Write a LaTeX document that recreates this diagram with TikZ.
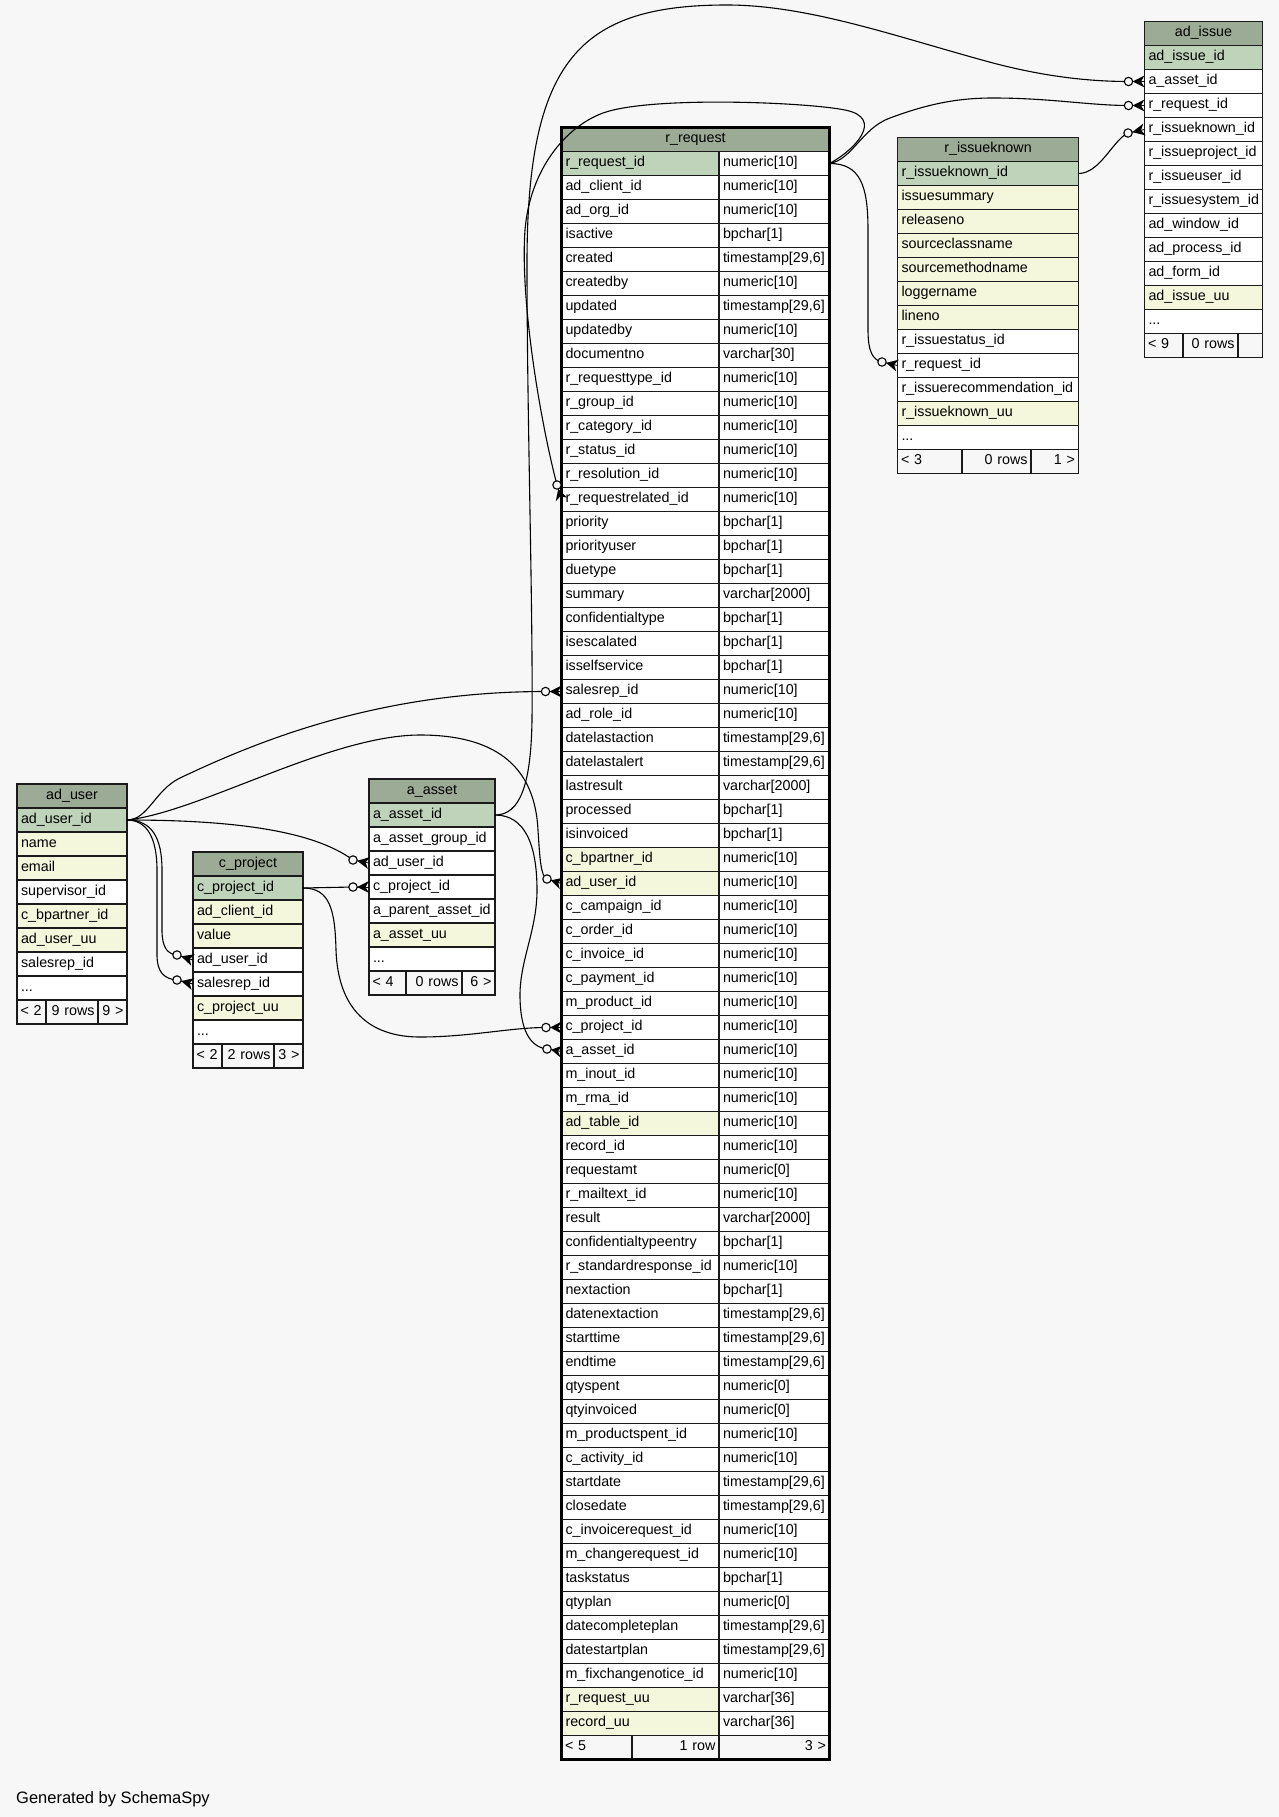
\documentclass[tikz,border=0pt]{standalone}
\usepackage{fontspec}
\setmainfont{Liberation Sans}
\usetikzlibrary{calc}
\definecolor{bgc}{HTML}{F7F7F7}
\definecolor{chd}{HTML}{9CAB96}
\definecolor{cp}{HTML}{BFD3BA}
\definecolor{cy}{HTML}{F4F7DB}
\definecolor{cw}{HTML}{FFFFFF}
\definecolor{linec}{HTML}{1A1A1A}
\tikzset{
  cell/.style={draw=linec, line width=1.3pt, anchor=north west, outer sep=0pt,
    inner xsep=4pt, inner ysep=0pt, minimum height=24pt, text height=10pt,
    text depth=3.5pt, align=left, font=\fontsize{14.3pt}{16pt}\selectfont,
    execute at begin node={\hyphenpenalty=10000\exhyphenpenalty=10000}},
  hdr/.style={cell, fill=chd, align=center},
  foot/.style={cell, fill=bgc, inner xsep=3.5pt},
  frame/.style={draw=linec, line width=1.7pt},
  bigframe/.style={draw=black, line width=3pt},
  fk/.style={draw=black, line width=1.1pt},
}
% one-column table: prefix, x, top, width, title, rows (text/fill)
\newcommand{\erdtable}[6]{%
  \pgfmathsetmacro\tw{#4-8}
  \node[hdr, text width=\tw pt] (#1) at (#2,#3) {#5};
  \foreach \rt/\rf [count=\ri] in {#6} {
    \node[cell, fill=c\rf, text width=\tw pt] (#1-\ri) at (#2,{#3+24*\ri}) {\rt};
  }
}
% footer row: prefix, x, y, w1, w2, w3, t1, t2, t3
\newcommand{\erdfoot}[9]{%
  \pgfmathsetmacro\twa{#4-7}\pgfmathsetmacro\twb{#5-7}\pgfmathsetmacro\twc{#6-7}
  \node[foot, text width=\twa pt, align=left] (#1-fa) at (#2,#3) {\mbox{#7}};
  \node[foot, text width=\twb pt, align=right] (#1-fb) at ({#2+#4},#3) {\mbox{#8}};
  \node[foot, text width=\twc pt, align=right] (#1-fc) at ({#2+#4+#5},#3) {\mbox{#9}};
}
% crow's foot with open circle: #1 circle centre, #2 point on the table edge
\newcommand{\crowodot}[2]{%
  \fill[black] ($(#1)!4.2pt!(#2)$) -- ($(#2)!6pt!90:(#1)$) -- ($(#2)!3.5pt!(#1)$)
    -- ($(#2)!6pt!-90:(#1)$) -- cycle;
  \draw[line width=0.9pt] ($(#1)!4.2pt!(#2)$) -- (#2);
  \draw[line width=1.1pt, fill=bgc] (#1) circle[radius=4.2pt];
}
\begin{document}
\begin{tikzpicture}[x=1pt,y=-1pt]
\fill[bgc] (0,0) rectangle (1279,1817);
\useasboundingbox (0,0) rectangle (1279,1817);

% ---------------- ad_issue
\erdtable{ai}{1144.5}{21.5}{118}{ad\_issue}{ad\_issue\_id/p, a\_asset\_id/w, r\_request\_id/w,
  r\_issueknown\_id/w, r\_issueproject\_id/w, r\_issueuser\_id/w, r\_issuesystem\_id/w,
  ad\_window\_id/w, ad\_process\_id/w, ad\_form\_id/w, ad\_issue\_uu/y, {.}{.}{.}/w}
\erdfoot{ai}{1144.5}{333.5}{38.5}{55}{24.5}{< 9}{0 rows}{}
\draw[frame] (ai.north west) rectangle (ai-fc.south east);

% ---------------- r_issueknown
\erdtable{rik}{897.5}{137.5}{181}{r\_issueknown}{r\_issueknown\_id/p, issuesummary/y,
  releaseno/y, sourceclassname/y, sourcemethodname/y, loggername/y, lineno/y,
  r\_issuestatus\_id/w, r\_request\_id/w, r\_issuerecommendation\_id/w,
  r\_issueknown\_uu/y, {.}{.}{.}/w}
\erdfoot{rik}{897.5}{449.5}{64.5}{69}{47.5}{< 3}{0 rows}{1 >}
\draw[frame] (rik.north west) rectangle (rik-fc.south east);

% ---------------- ad_user
\erdtable{au}{17}{784}{110}{ad\_user}{ad\_user\_id/p, name/y, email/y, supervisor\_id/w,
  c\_bpartner\_id/y, ad\_user\_uu/y, salesrep\_id/w, {.}{.}{.}/w}
\erdfoot{au}{17}{1000}{29}{52}{29}{< 2}{9 rows}{9 >}
\draw[frame] (au.north west) rectangle (au-fc.south east);

% ---------------- c_project
\erdtable{cp}{193}{852}{110}{c\_project}{c\_project\_id/p, ad\_client\_id/y, value/y,
  ad\_user\_id/w, salesrep\_id/w, c\_project\_uu/y, {.}{.}{.}/w}
\erdfoot{cp}{193}{1044}{29}{52}{29}{< 2}{2 rows}{3 >}
\draw[frame] (cp.north west) rectangle (cp-fc.south east);

% ---------------- a_asset
\erdtable{aa}{369}{779}{126}{a\_asset}{a\_asset\_id/p, a\_asset\_group\_id/w, ad\_user\_id/w,
  c\_project\_id/w, a\_parent\_asset\_id/w, a\_asset\_uu/y, {.}{.}{.}/w}
\erdfoot{aa}{369}{971}{37}{56}{33}{< 4}{0 rows}{6 >}
\draw[frame] (aa.north west) rectangle (aa-fc.south east);

% ---------------- r_request
\node[hdr, text width=260pt] (rq) at (561.5,127.5) {r\_request};
\foreach \ca/\cb/\rf [count=\ri] in {
  r\_request\_id/numeric[10]/p, ad\_client\_id/numeric[10]/w, ad\_org\_id/numeric[10]/w,
  isactive/bpchar[1]/w, created/{timestamp[29,6]}/w, createdby/numeric[10]/w,
  updated/{timestamp[29,6]}/w, updatedby/numeric[10]/w, documentno/varchar[30]/w,
  r\_requesttype\_id/numeric[10]/w, r\_group\_id/numeric[10]/w, r\_category\_id/numeric[10]/w,
  r\_status\_id/numeric[10]/w, r\_resolution\_id/numeric[10]/w, r\_requestrelated\_id/numeric[10]/w,
  priority/bpchar[1]/w, priorityuser/bpchar[1]/w, duetype/bpchar[1]/w,
  summary/varchar[2000]/w, confidentialtype/bpchar[1]/w, isescalated/bpchar[1]/w,
  isselfservice/bpchar[1]/w, salesrep\_id/numeric[10]/w, ad\_role\_id/numeric[10]/w,
  datelastaction/{timestamp[29,6]}/w, datelastalert/{timestamp[29,6]}/w, lastresult/varchar[2000]/w,
  processed/bpchar[1]/w, isinvoiced/bpchar[1]/w, c\_bpartner\_id/numeric[10]/y,
  ad\_user\_id/numeric[10]/y, c\_campaign\_id/numeric[10]/w, c\_order\_id/numeric[10]/w,
  c\_invoice\_id/numeric[10]/w, c\_payment\_id/numeric[10]/w, m\_product\_id/numeric[10]/w,
  c\_project\_id/numeric[10]/w, a\_asset\_id/numeric[10]/w, m\_inout\_id/numeric[10]/w,
  m\_rma\_id/numeric[10]/w, ad\_table\_id/numeric[10]/y, record\_id/numeric[10]/w,
  requestamt/numeric[0]/w, r\_mailtext\_id/numeric[10]/w, result/varchar[2000]/w,
  confidentialtypeentry/bpchar[1]/w, r\_standardresponse\_id/numeric[10]/w, nextaction/bpchar[1]/w,
  datenextaction/{timestamp[29,6]}/w, starttime/{timestamp[29,6]}/w, endtime/{timestamp[29,6]}/w,
  qtyspent/numeric[0]/w, qtyinvoiced/numeric[0]/w, m\_productspent\_id/numeric[10]/w,
  c\_activity\_id/numeric[10]/w, startdate/{timestamp[29,6]}/w, closedate/{timestamp[29,6]}/w,
  c\_invoicerequest\_id/numeric[10]/w, m\_changerequest\_id/numeric[10]/w, taskstatus/bpchar[1]/w,
  qtyplan/numeric[0]/w, datecompleteplan/{timestamp[29,6]}/w, datestartplan/{timestamp[29,6]}/w,
  m\_fixchangenotice\_id/numeric[10]/w, r\_request\_uu/varchar[36]/y, record\_uu/varchar[36]/y} {
  \node[cell, fill=c\rf, text width=149.5pt] (rqn-\ri) at (561.5,{127.5+24*\ri}) {\ca};
  \node[cell, fill=cw, text width=102.5pt] (rqt-\ri) at (719,{127.5+24*\ri}) {\cb};
}
\erdfoot{rq}{561.5}{1735.5}{70.5}{87}{110.5}{< 5}{1 row}{3 >}
\draw[bigframe] (rq.north west) rectangle (rq-fc.south east);

% ---------------- connector end points (circle centres)
\coordinate (e1) at ($(ai-2.west)+(-16,0)$);
\coordinate (e2) at ($(ai-3.west)+(-16,0)$);
\coordinate (e3) at ($(ai-4.west)+(-16.5,3.5)$);
\coordinate (e4) at ($(rik-9.west)+(-15.5,-3.5)$);
\coordinate (e5) at ($(rqn-15.west)+(-4.5,-14.5)$);
\coordinate (e6) at ($(rqn-23.west)+(-16,0)$);
\coordinate (e7) at ($(rqn-31.west)+(-14.5,-4.5)$);
\coordinate (e8) at ($(aa-3.west)+(-16,-3)$);
\coordinate (e9) at ($(cp-4.west)+(-16,-5)$);
\coordinate (e10) at ($(cp-5.west)+(-16,-4)$);
\coordinate (e11) at ($(aa-4.west)+(-16,0)$);
\coordinate (e12) at ($(rqn-37.west)+(-15.5,0)$);
\coordinate (e13) at ($(rqn-38.west)+(-14.5,-2.5)$);

% ---------------- connectors
% a_asset.a_asset_id -> ad_issue.a_asset_id
\draw[fk] (aa-1.east) .. controls (520,815) and (531,785) .. (532,720)
  .. controls (533,600) and (527,420) .. (527,263)
  .. controls (527,60) and (580,5) .. (727,5)
  .. controls (810,5) and (900,38) .. (993,63)
  .. controls (1050,78) and (1095,81.5) .. (e1);
% r_request.r_request_id -> ad_issue.r_request_id
\draw[fk] (rqt-1.east) .. controls (852,160) and (862,128) .. (890,118)
  .. controls (930,103) and (960,98) .. (993,98)
  .. controls (1050,98) and (1090,105.5) .. (e2);
% r_issueknown.r_issueknown_id -> ad_issue.r_issueknown_id
\draw[fk] (rik-1.east) .. controls (1100,173.5) and (1113,140) .. (e3);
% r_request.r_request_id -> r_issueknown.r_request_id
\draw[fk] (rqt-1.east) .. controls (860,163.5) and (868,185) .. (868,230) -- (868,330)
  .. controls (868,352) and (873,360) .. (e4);
% r_request.r_request_id -> r_request.r_requestrelated_id
\draw[fk] (rqt-1.east) .. controls (855,150) and (885,118) .. (845,110)
  .. controls (805,102) and (650,96) .. (603,113)
  .. controls (565,127) and (530,170) .. (525,230)
  .. controls (520,300) and (540,420) .. (e5);
% ad_user.ad_user_id -> r_request.salesrep_id
\draw[fk] (au-1.east) .. controls (148,820) and (155,790) .. (180,778)
  .. controls (260,740) and (380,691.5) .. (e6);
% ad_user.ad_user_id -> r_request.ad_user_id
\draw[fk] (au-1.east) .. controls (200,812) and (330,735) .. (420,735)
  .. controls (500,735) and (535,770) .. (538,830)
  .. controls (540,862) and (541,876) .. (e7);
% ad_user.ad_user_id -> a_asset.ad_user_id
\draw[fk] (au-1.east) .. controls (240,820) and (315,832) .. (e8);
% ad_user.ad_user_id -> c_project.ad_user_id
\draw[fk] (au-1.east) .. controls (152,820) and (162,838) .. (162,870) -- (162,930)
  .. controls (162,947) and (167,954) .. (e9);
% ad_user.ad_user_id -> c_project.salesrep_id
\draw[fk] (au-1.east) .. controls (147,820) and (157,838) .. (157,870) -- (157,955)
  .. controls (157,972) and (164,979) .. (e10);
% c_project.c_project_id -> a_asset.c_project_id
\draw[fk] (cp-1.east) -- (e11);
% c_project.c_project_id -> r_request.c_project_id
\draw[fk] (cp-1.east) .. controls (330,888) and (335,910) .. (336,950)
  .. controls (338,1010) and (370,1037) .. (420,1037)
  .. controls (470,1037) and (510,1027.5) .. (e12);
% a_asset.a_asset_id -> r_request.a_asset_id
\draw[fk] (aa-1.east) .. controls (525,815) and (537,845) .. (537,890)
  .. controls (537,930) and (520,960) .. (520,995)
  .. controls (520,1030) and (530,1047) .. (e13);

% ---------------- crow's feet
\crowodot{e1}{ai-2.west}
\crowodot{e2}{ai-3.west}
\crowodot{e3}{ai-4.west}
\crowodot{e4}{rik-9.west}
\crowodot{e5}{rqn-15.west}
\crowodot{e6}{rqn-23.west}
\crowodot{e7}{rqn-31.west}
\crowodot{e8}{aa-3.west}
\crowodot{e9}{cp-4.west}
\crowodot{e10}{cp-5.west}
\crowodot{e11}{aa-4.west}
\crowodot{e12}{rqn-37.west}
\crowodot{e13}{rqn-38.west}

\node[anchor=base west, inner sep=0pt, font=\fontsize{16.5pt}{18pt}\selectfont] (gen) at (16,1803) {Generated by SchemaSpy};
\end{tikzpicture}
\end{document}
